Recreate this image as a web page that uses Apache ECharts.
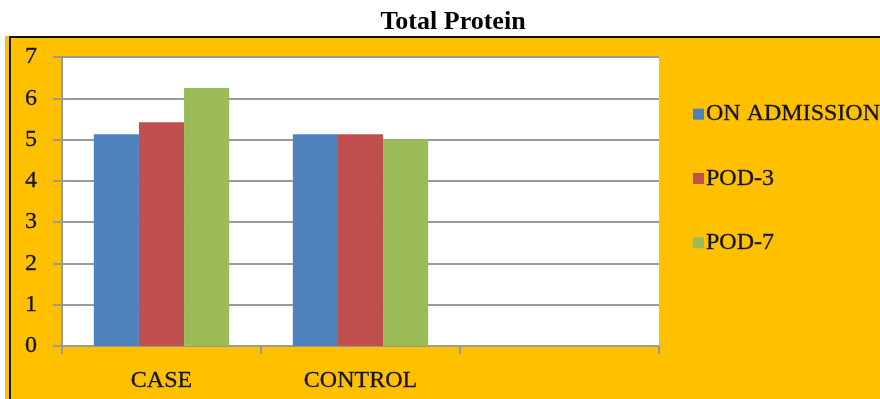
<!DOCTYPE html>
<html>
<head>
<meta charset="utf-8">
<style>
  html, body { margin: 0; padding: 0; background: #ffffff; }
  #chart { width: 880px; height: 399px; }
</style>
<script src="https://cdn.jsdelivr.net/npm/echarts@6/dist/echarts.min.js"></script>
</head>
<body>
<div id="chart"></div>
<script>
// Total protein by group and time point
const categories = ['CASE', 'CONTROL', ''];
const onAdmission = [5.13, 5.13, null];
const pod3 = [5.42, 5.13, null];
const pod7 = [6.25, 5.0, null];
const seriesNames = ['ON ADMISSION', 'POD-3', 'POD-7'];
const yTicks = { min: 0, max: 7, interval: 1 };

const serif = 'Liberation Serif';
const textColor = '#141414';
const gridGray = '#9a9a9a';

// shared label look: serif, slightly heavier strokes
const labelText = {
  fontFamily: serif,
  fontSize: 24,
  color: textColor,
  textBorderColor: textColor,
  textBorderWidth: 0.3
};

const chart = echarts.init(document.getElementById('chart'));

const option = {
  backgroundColor: '#ffffff',
  animation: false,
  textStyle: { fontFamily: serif },
  color: ['#4F81BD', '#C0504D', '#9BBB59'],
  title: {
    text: 'Total Protein',
    left: 448,
    textAlign: 'center',
    top: 4,
    textStyle: { fontFamily: serif, fontWeight: 'bold', fontSize: 26, color: '#000' }
  },
  graphic: [
    { type: 'rect', z: -10, silent: true,
      shape: { x: 5, y: 36, width: 880, height: 370 },
      style: { fill: '#FFC000' } },
    { type: 'line', z: -9, silent: true,
      shape: { x1: 9, y1: 37, x2: 880, y2: 37 },
      style: { stroke: '#111', lineWidth: 2 } },
    { type: 'line', z: -9, silent: true,
      shape: { x1: 10, y1: 36, x2: 10, y2: 399 },
      style: { stroke: '#111', lineWidth: 2 } }
  ],
  legend: {
    orient: 'vertical',
    left: 688,
    top: 97,
    itemWidth: 11,
    itemHeight: 11,
    itemGap: 40,
    icon: 'rect',
    textStyle: Object.assign({}, labelText, { lineHeight: 23, padding: [0, 0, 0, -3] }),
    data: seriesNames
  },
  grid: {
    left: 62,
    right: 221,
    top: 57,
    bottom: 53,
    show: true,
    backgroundColor: '#ffffff',
    borderWidth: 0
  },
  xAxis: {
    type: 'category',
    data: categories,
    axisLine: { lineStyle: { color: gridGray, width: 2 } },
    axisTick: { show: true, length: 8, lineStyle: { color: gridGray, width: 2 } },
    axisLabel: Object.assign({}, labelText, { margin: 23 })
  },
  yAxis: {
    type: 'value',
    min: yTicks.min,
    max: yTicks.max,
    interval: yTicks.interval,
    axisLine: { show: true, lineStyle: { color: gridGray, width: 2 } },
    axisTick: { show: true, length: 9, lineStyle: { color: gridGray, width: 2 } },
    axisLabel: Object.assign({}, labelText, { margin: 25 }),
    splitLine: { lineStyle: { color: gridGray, width: 2 } }
  },
  series: [
    { name: seriesNames[0], type: 'bar', data: onAdmission, barGap: '0%', barCategoryGap: '32%' },
    { name: seriesNames[1], type: 'bar', data: pod3, barGap: '0%', barCategoryGap: '32%' },
    { name: seriesNames[2], type: 'bar', data: pod7, barGap: '0%', barCategoryGap: '32%' }
  ]
};

chart.setOption(option);
</script>
</body>
</html>
